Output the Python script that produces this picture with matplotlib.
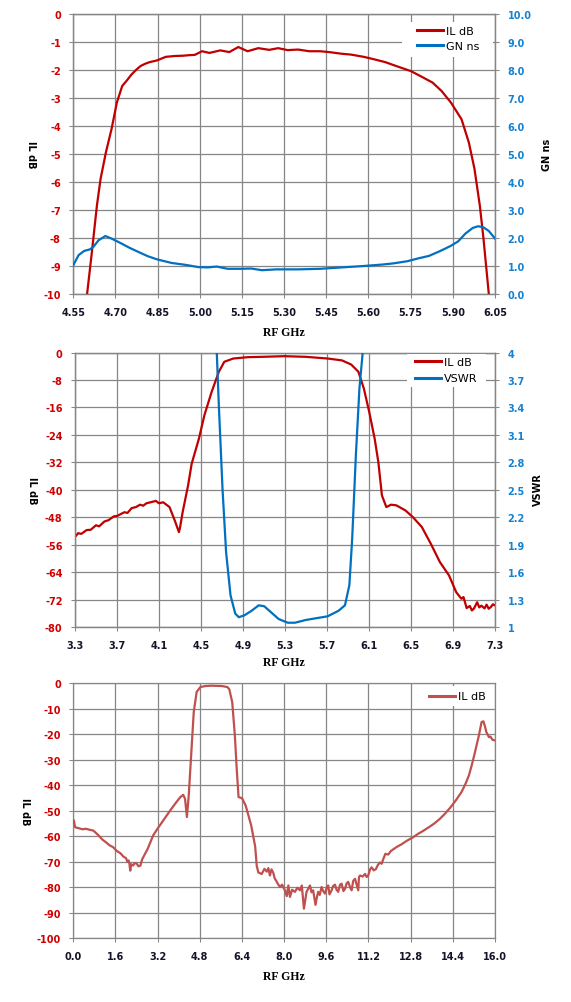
import numpy as np
import matplotlib
matplotlib.use("Agg")
import matplotlib.pyplot as plt
from matplotlib.lines import Line2D
from matplotlib.patches import Rectangle

# FIGURE SIZE IN PIXELS
W, H = 571, 1003

# ---------------- DATA ----------------

# TOP CHART: PASSBAND INSERTION LOSS AND GROUP DELAY
top_il_ghz = [4.599, 4.615, 4.634, 4.647, 4.666, 4.686, 4.705, 4.724, 4.740, 4.757,
              4.775, 4.789, 4.805, 4.821, 4.847, 4.879, 4.911, 4.940, 4.963, 4.982,
              5.008, 5.034, 5.073, 5.105, 5.137, 5.170, 5.208, 5.247, 5.279, 5.312,
              5.350, 5.389, 5.428, 5.460, 5.505, 5.538, 5.583, 5.621, 5.660, 5.699,
              5.751, 5.789, 5.828, 5.860, 5.893, 5.931, 5.957, 5.977, 5.996, 6.009,
              6.028]
top_il_db = [-10.0, -8.6, -6.84, -5.89, -4.94, -4.11, -3.16, -2.57, -2.38, -2.16,
             -1.98, -1.86, -1.78, -1.72, -1.66, -1.53, -1.50, -1.49, -1.47, -1.46,
             -1.33, -1.39, -1.30, -1.36, -1.18, -1.33, -1.22, -1.28, -1.22, -1.29,
             -1.27, -1.33, -1.33, -1.36, -1.42, -1.45, -1.53, -1.62, -1.72, -1.86,
             -2.04, -2.24, -2.45, -2.75, -3.16, -3.76, -4.59, -5.53, -6.84, -8.02,
             -10.0]

top_gd_ghz = [4.550, 4.569, 4.589, 4.608, 4.621, 4.640, 4.664, 4.686, 4.718, 4.750,
              4.782, 4.815, 4.847, 4.899, 4.950, 4.995, 5.028, 5.060, 5.099, 5.144,
              5.183, 5.221, 5.273, 5.350, 5.428, 5.505, 5.583, 5.647, 5.686, 5.738,
              5.776, 5.815, 5.854, 5.893, 5.919, 5.945, 5.971, 5.990, 6.009, 6.028,
              6.050]
top_gd_ns = [1.03, 1.39, 1.54, 1.59, 1.68, 1.92, 2.07, 1.98, 1.82, 1.65,
             1.50, 1.35, 1.24, 1.11, 1.04, 0.96, 0.95, 0.98, 0.90, 0.90,
             0.91, 0.85, 0.88, 0.88, 0.90, 0.95, 1.00, 1.05, 1.09, 1.17,
             1.27, 1.36, 1.53, 1.72, 1.88, 2.16, 2.36, 2.42, 2.38, 2.25,
             1.98]

top_xticks = [4.55, 4.70, 4.85, 5.00, 5.15, 5.30, 5.45, 5.60, 5.75, 5.90, 6.05]
top_yticks = [0, -1, -2, -3, -4, -5, -6, -7, -8, -9, -10]
top_y2ticks = [0.0, 1.0, 2.0, 3.0, 4.0, 5.0, 6.0, 7.0, 8.0, 9.0, 10.0]

# MIDDLE CHART: NEAR BAND INSERTION LOSS AND VSWR
mid_il_ghz = [3.30, 3.33, 3.36, 3.41, 3.45, 3.50, 3.53, 3.58, 3.62, 3.67,
              3.70, 3.77, 3.80, 3.84, 3.88, 3.92, 3.95, 3.98, 4.02, 4.07,
              4.10, 4.14, 4.20, 4.25, 4.29, 4.30, 4.325, 4.377, 4.411, 4.480,
              4.532, 4.601, 4.670, 4.722, 4.808, 4.946, 5.084, 5.291, 5.498, 5.706,
              5.843, 5.930, 5.999, 6.051, 6.102, 6.154, 6.189, 6.223, 6.265, 6.310,
              6.361, 6.448, 6.517, 6.603, 6.689, 6.775, 6.862, 6.931, 6.98, 7.00,
              7.03, 7.06, 7.08, 7.10, 7.13, 7.15, 7.17, 7.20, 7.22, 7.24,
              7.26, 7.28, 7.30]
mid_il_db = [-53.7, -52.6, -52.8, -51.7, -51.6, -50.3, -50.6, -49.2, -48.8, -47.7,
             -47.6, -46.5, -46.7, -45.3, -45.0, -44.3, -44.6, -43.9, -43.6, -43.2,
             -43.9, -43.6, -45.0, -48.9, -52.3, -51.0, -46.5, -38.7, -32.4, -25.1,
             -18.3, -11.5, -5.6, -2.7, -1.75, -1.36, -1.26, -1.07, -1.26, -1.75,
             -2.3, -3.5, -5.6, -10.5, -17.3, -25.1, -31.9, -41.6, -45.0, -44.3,
             -44.5, -46.0, -47.9, -50.8, -55.7, -61.0, -64.9, -69.8, -71.7, -71.2,
             -74.4, -73.8, -75.1, -74.5, -72.7, -74.2, -73.7, -74.5, -73.4, -74.6,
             -74.1, -73.3, -73.6]

mid_vswr_ghz = [4.640, 4.670, 4.705, 4.739, 4.781, 4.826, 4.860, 4.912, 4.981, 5.050,
                5.102, 5.171, 5.240, 5.326, 5.395, 5.498, 5.602, 5.706, 5.809, 5.871,
                5.913, 5.940, 5.975, 6.009, 6.040, 6.060]
mid_vswr = [4.30, 3.42, 2.51, 1.82, 1.35, 1.15, 1.11, 1.13, 1.18, 1.24,
            1.23, 1.16, 1.09, 1.05, 1.05, 1.08, 1.10, 1.12, 1.18, 1.24,
            1.46, 1.97, 2.88, 3.61, 4.00, 4.30]

mid_xticks = [3.3, 3.7, 4.1, 4.5, 4.9, 5.3, 5.7, 6.1, 6.5, 6.9, 7.3]
mid_yticks = [0, -8, -16, -24, -32, -40, -48, -56, -64, -72, -80]
mid_y2ticks = [1.0, 1.3, 1.6, 1.9, 2.2, 2.5, 2.8, 3.1, 3.4, 3.7, 4.0]
mid_y2labels = ["1", "1.3", "1.6", "1.9", "2.2", "2.5", "2.8", "3.1", "3.4", "3.7", "4"]

# BOTTOM CHART: WIDEBAND INSERTION LOSS
wide_ghz = [0.02, 0.07, 0.21, 0.35, 0.48, 0.62, 0.76, 0.96, 1.10, 1.24,
            1.38, 1.51, 1.65, 1.79, 1.90, 2.00, 2.05, 2.10, 2.13, 2.16,
            2.20, 2.27, 2.33, 2.41, 2.47, 2.55, 2.58, 2.62, 2.82, 3.03,
            3.20, 3.37, 3.55, 3.72, 3.90, 4.06, 4.17, 4.24, 4.31, 4.38,
            4.48, 4.57, 4.68, 4.82, 5.00, 5.23, 5.65, 5.85, 5.92, 6.03,
            6.13, 6.20, 6.27, 6.40, 6.54, 6.75, 6.90, 6.96, 7.02, 7.15,
            7.25, 7.34, 7.40, 7.46, 7.52, 7.59, 7.64, 7.69, 7.75, 7.84,
            7.92, 8.03, 8.10, 8.16, 8.22, 8.30, 8.41, 8.50, 8.60, 8.67,
            8.75, 8.85, 8.92, 8.98, 9.04, 9.10, 9.19, 9.24, 9.29, 9.35,
            9.42, 9.48, 9.55, 9.62, 9.67, 9.72, 9.80, 9.86, 9.93, 9.99,
            10.05, 10.12, 10.18, 10.25, 10.31, 10.37, 10.43, 10.50, 10.56, 10.62,
            10.69, 10.75, 10.81, 10.84, 10.88, 10.98, 11.07, 11.13, 11.19, 11.26,
            11.32, 11.40, 11.48, 11.56, 11.64, 11.70, 11.76, 11.84, 11.95, 12.05,
            12.26, 12.45, 12.67, 12.88, 13.08, 13.28, 13.49, 13.70, 13.91, 14.10,
            14.32, 14.52, 14.73, 14.88, 15.01, 15.11, 15.21, 15.30, 15.39, 15.49,
            15.56, 15.62, 15.67, 15.77, 15.83, 15.90, 16.00]
wide_db = [-53.9, -56.5, -56.9, -57.3, -57.1, -57.5, -57.8, -59.7, -61.3, -62.4,
           -63.6, -64.3, -65.8, -66.7, -68.0, -68.6, -70.0, -69.5, -70.8, -73.5,
           -71.0, -71.5, -70.5, -70.8, -71.8, -71.5, -70.2, -68.9, -65.0, -59.7,
           -57.0, -54.5, -51.8, -49.3, -46.8, -44.7, -43.8, -45.4, -52.5, -44.1,
           -27.1, -11.4, -3.5, -1.6, -1.2, -1.05, -1.2, -1.6, -2.5, -7.5,
           -20.5, -33.6, -44.7, -45.1, -48.0, -55.8, -64.0, -71.6, -74.2, -74.8,
           -72.8, -73.9, -72.5, -75.4, -73.0, -74.4, -76.5, -77.3, -78.5, -79.9,
           -79.0, -81.2, -83.5, -79.3, -83.8, -81.0, -81.8, -80.2, -81.2, -79.3,
           -88.4, -81.8, -80.5, -79.3, -82.0, -81.2, -86.9, -84.0, -81.8, -83.0,
           -79.9, -81.5, -82.5, -80.0, -79.3, -82.8, -81.2, -79.5, -79.0, -81.0,
           -81.8, -79.0, -78.6, -81.5, -80.6, -78.5, -77.9, -80.0, -81.2, -77.5,
           -76.7, -79.0, -81.2, -76.0, -75.4, -75.8, -74.8, -76.0, -75.4, -73.0,
           -72.2, -73.4, -72.9, -71.2, -70.3, -70.8, -69.0, -66.9, -67.2, -65.8,
           -64.3, -63.2, -61.7, -60.5, -59.1, -57.9, -56.5, -55.0, -53.2, -51.2,
           -48.6, -45.9, -42.7, -39.5, -36.2, -32.5, -28.4, -24.5, -20.5, -15.3,
           -15.0, -17.0, -19.2, -21.2, -21.0, -22.2, -22.5]

wide_xticks = [0.0, 1.6, 3.2, 4.8, 6.4, 8.0, 9.6, 11.2, 12.8, 14.4, 16.0]
wide_yticks = [0, -10, -20, -30, -40, -50, -60, -70, -80, -90, -100]

# ---------------- STYLE ----------------

RED = "#C00000"
BLUE = "#0070C0"
RED2 = "#C0504D"
GRID = "#868686"
TICK_RED = "#D00000"
TICK_BLUE = "#1482D2"
XLAB = "#141428"

plt.rcParams["font.family"] = ["DejaVu Sans"]

fig = plt.figure(figsize=(W / 100, H / 100), dpi=100)
fig.patch.set_facecolor("white")


def px_axes(left, top, right, bottom):
    # AXES FROM PIXEL EDGES
    return fig.add_axes([left / W, 1 - bottom / H, (right - left) / W, (bottom - top) / H])


def style_axes(ax, xticks, xlabels, yticks, ylabels, xlim, ylim):
    ax.set_xlim(xlim)
    ax.set_ylim(ylim)
    ax.set_xticks(xticks)
    ax.set_xticklabels(xlabels, fontweight="bold", color=XLAB, fontsize=7)
    ax.set_yticks(yticks)
    ax.set_yticklabels(ylabels, fontweight="bold", color=TICK_RED, fontsize=7)
    ax.tick_params(direction="out", length=3, width=0.75, color=GRID, pad=6)
    ax.grid(True, color=GRID, linewidth=0.9)
    ax.set_axisbelow(True)
    for s in ax.spines.values():
        s.set_color(GRID)
        s.set_linewidth(0.9)


def style_twin(ax2, yticks, ylabels, ylim):
    ax2.set_ylim(ylim)
    ax2.set_yticks(yticks)
    ax2.set_yticklabels(ylabels, fontweight="bold", color=TICK_BLUE, fontsize=7)
    ax2.tick_params(direction="out", length=3, width=0.75, color=GRID, pad=6)
    for s in ax2.spines.values():
        s.set_color(GRID)
        s.set_linewidth(0.9)


def legend_box(left, top, right, bottom):
    # WHITE LEGEND BACKGROUND THAT HIDES GRID LINES
    fig.add_artist(Rectangle((left / W, 1 - bottom / H), (right - left) / W, (bottom - top) / H,
                             transform=fig.transFigure, facecolor="white",
                             edgecolor="none", zorder=1))


def add_legend(handles, labels, x, y, spacing):
    fig.legend(handles, labels, loc="upper left",
               bbox_to_anchor=(x / W, 1 - y / H), bbox_transform=fig.transFigure,
               frameon=False, borderpad=0, borderaxespad=0, fontsize=8,
               handlelength=2.35, handletextpad=0.3, labelspacing=spacing)


def ylabel_text(x, y, text, rot):
    fig.text(x / W, 1 - y / H, text, rotation=rot, ha="center", va="center",
             fontsize=7, fontweight="bold", color="black")


def xlabel_text(y, text):
    fig.text(284 / W, 1 - y / H, text, ha="center", va="center",
             fontsize=8.5, fontweight="bold", family="Liberation Serif", color="black")


# ---------------- TOP CHART ----------------
ax1 = px_axes(73.3, 15, 495, 295)
ax1.plot(top_il_ghz, top_il_db, color=RED, lw=1.6, zorder=3)
style_axes(ax1, top_xticks, ["%.2f" % v for v in top_xticks],
           top_yticks, ["%d" % v for v in top_yticks], (4.55, 6.05), (-10, 0))

ax1b = ax1.twinx()
ax1b.plot(top_gd_ghz, top_gd_ns, color=BLUE, lw=1.6, zorder=3)
style_twin(ax1b, top_y2ticks, ["%.1f" % v for v in top_y2ticks], (0, 10))

legend_box(401.7, 23, 493, 58)
add_legend([Line2D([], [], color=RED, lw=2.2), Line2D([], [], color=BLUE, lw=2.2)],
           ["IL dB", "GN ns"], 417, 27, 0.45)

ylabel_text(31, 155, "IL dB", 270)
ylabel_text(547, 155, "GN ns", 90)
xlabel_text(333, "RF GHz")

# ---------------- MIDDLE CHART ----------------
ax2 = px_axes(75, 353.5, 495, 628.3)
ax2.plot(mid_il_ghz, mid_il_db, color=RED, lw=1.6, zorder=3)
style_axes(ax2, mid_xticks, ["%.1f" % v for v in mid_xticks],
           mid_yticks, ["%d" % v for v in mid_yticks], (3.3, 7.3), (-80, 0))

ax2b = ax2.twinx()
ax2b.plot(mid_vswr_ghz, mid_vswr, color=BLUE, lw=1.6, zorder=3)
style_twin(ax2b, mid_y2ticks, mid_y2labels, (1, 4))

legend_box(407, 355, 486, 388)
add_legend([Line2D([], [], color=RED, lw=2.2), Line2D([], [], color=BLUE, lw=2.2)],
           ["IL dB", "VSWR"], 414.5, 358, 0.58)

ylabel_text(32, 491, "IL dB", 270)
ylabel_text(538, 490, "VSWR", 90)
xlabel_text(663, "RF GHz")

# ---------------- BOTTOM CHART ----------------
ax3 = px_axes(73.3, 684, 495, 939.3)
ax3.plot(wide_ghz, wide_db, color=RED2, lw=1.6, zorder=3)
style_axes(ax3, wide_xticks, ["%.1f" % v for v in wide_xticks],
           wide_yticks, ["%d" % v for v in wide_yticks], (0, 16), (-100, 0))

legend_box(425, 687, 490, 707)
add_legend([Line2D([], [], color=RED2, lw=2.2)], ["IL dB"], 429, 692.5, 0.3)

ylabel_text(25, 812, "IL dB", 270)
xlabel_text(977, "RF GHz")

fig.savefig("out.png", dpi=100, facecolor="white")
plt.close(fig)
